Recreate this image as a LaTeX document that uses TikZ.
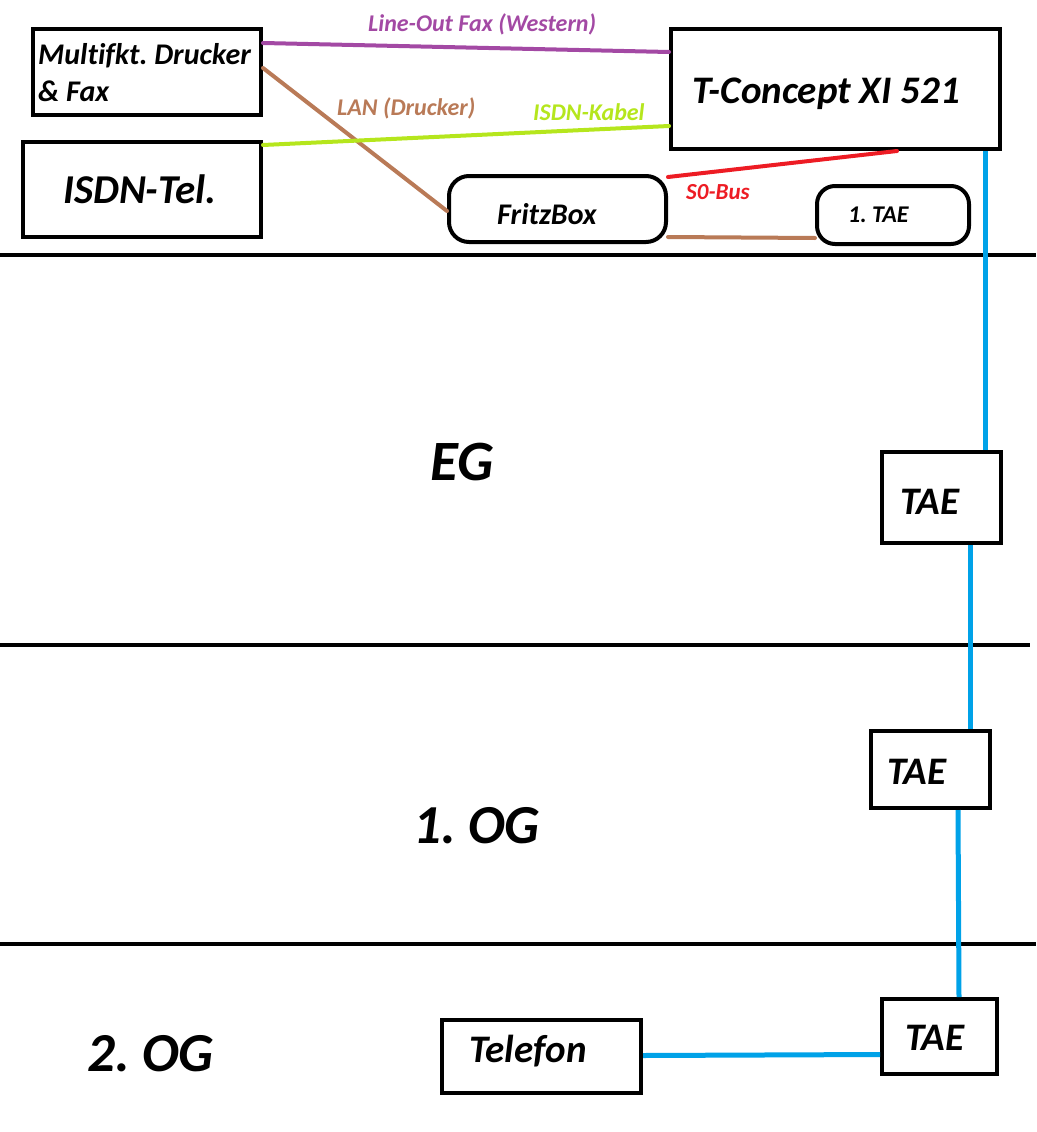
\documentclass[tikz,border=0pt]{standalone}
\usepackage{fontspec}
\setmainfont[Ligatures=CommonOff]{Carlito}
\usetikzlibrary{calc}
\definecolor{cpurple}{HTML}{A349A4}
\definecolor{cbrown}{HTML}{B97A57}
\definecolor{clime}{HTML}{B5E61D}
\definecolor{cred}{HTML}{ED1C24}
\definecolor{cblue}{HTML}{00A2E8}
\frenchspacing
\begin{document}
\begin{tikzpicture}[x=1pt,y=-1pt,
  box/.style={draw=black,line width=4pt,rectangle,inner sep=0pt},
  rbox/.style={box,rounded corners=20pt},
  txt/.style={anchor=base west,inner sep=0pt},
  wire/.style={line width=4pt,line cap=round},
  bwire/.style={line width=5pt,color=cblue}]
\useasboundingbox (0,0) rectangle (1036,1132);
% floor lines
\draw[line width=4pt] (0,255) -- (1036,255);
\draw[line width=4pt] (0,645) -- (1030,645);
\draw[line width=4pt] (0,944) -- (1036,944);
% boxes
\node[box,minimum width=228pt,minimum height=86pt] (mf) at (147,72) {};
\node[box,minimum width=238pt,minimum height=95pt] (isdn) at (142,189.5) {};
\node[box,minimum width=329pt,minimum height=120pt] (tc) at (835.5,89) {};
\node[rbox,minimum width=217pt,minimum height=66pt] (fb) at (557.5,209) {};
\node[rbox,rounded corners=18pt,minimum width=152pt,minimum height=58pt] (tae0) at (893,215) {};
\node[box,minimum width=119pt,minimum height=91pt] (t1) at (941.5,497.5) {};
\node[box,minimum width=119pt,minimum height=77pt] (t2) at (930.5,769.5) {};
\node[box,minimum width=115pt,minimum height=75pt] (t3) at (939.5,1036.5) {};
\node[box,minimum width=199pt,minimum height=73pt] (tel) at (541.5,1056.5) {};
% texts
\node[txt,font=\fontsize{30}{32}\selectfont\bfseries\itshape] (mft1) at (38,64) {Multifkt. Drucker};
\node[txt,font=\fontsize{30}{32}\selectfont\bfseries\itshape] (mft2) at (38,101) {\& Fax};
\node[txt,font=\fontsize{41}{44}\selectfont\bfseries\itshape] (isdnt) at (63,203) {ISDN-Tel.};
\node[txt,font=\fontsize{39}{42}\selectfont\bfseries\itshape] (tct) at (692,103) {T-Concept XI 521};
\node[txt,font=\fontsize{30}{32}\selectfont\bfseries\itshape] (fbt) at (497,224) {FritzBox};
\node[txt,font=\fontsize{24}{26}\selectfont\bfseries\itshape] (tae0t) at (848,222) {1. TAE};
\node[txt,font=\fontsize{39}{42}\selectfont\bfseries\itshape] (t1t) at (900,514) {TAE};
\node[txt,font=\fontsize{39}{42}\selectfont\bfseries\itshape] (t2t) at (887,784) {TAE};
\node[txt,font=\fontsize{39}{42}\selectfont\bfseries\itshape] (t3t) at (905,1050) {TAE};
\node[txt,font=\fontsize{39}{42}\selectfont\bfseries\itshape] (telt) at (469,1062) {Telefon};
\node[txt,font=\fontsize{57}{60}\selectfont\bfseries\itshape] (eg) at (430,480) {EG};
\node[txt,font=\fontsize{55}{58}\selectfont\bfseries\itshape] (og1) at (413,843) {1. OG};
\node[txt,font=\fontsize{55}{58}\selectfont\bfseries\itshape] (og2) at (87,1071) {2. OG};
% wire labels
\node[txt,font=\fontsize{24}{26}\selectfont\bfseries\itshape,text=cpurple] (lpurple) at (368,32) {Line-Out Fax (Western)};
\node[txt,font=\fontsize{24}{26}\selectfont\bfseries\itshape,text=cbrown] (lbrown) at (337,115) {LAN (Drucker)};
\node[txt,font=\fontsize{24}{26}\selectfont\bfseries\itshape,text=clime] (llime) at (533,120) {ISDN-Kabel};
\node[txt,font=\fontsize{23}{25}\selectfont\bfseries\itshape,text=cred] (lred) at (686,199) {S0-Bus};
% wires
\draw[wire,cpurple] ($(mf.north east)+(0,16)$) -- ($(tc.north west)+(0,25)$);
\draw[wire,cbrown] ($(mf.north east)+(0,41)$) -- ($(fb.west)+(0,2)$);
\draw[wire,clime] ($(isdn.north east)+(0,5)$) -- ($(tc.north west)+(0,99)$);
\draw[wire,cred] ($(fb.north east)+(0,3)$) -- ($(tc.south west)+(228,0)$);
\draw[wire,cbrown] ($(fb.south east)+(0,-7)$) -- ($(tae0.south west)+(0,-8)$);
\draw[bwire] ($(tc.south west)+(316,0)$) -- ($(t1.north west)+(105,0)$);
\draw[bwire] ($(t1.south west)+(90,0)$) -- ($(t2.north west)+(101,0)$);
\draw[bwire] ($(t2.south west)+(89,0)$) -- ($(t3.north west)+(79,0)$);
\draw[bwire] ($(t3.west)+(0,18)$) -- ($(tel.east)+(0,-1)$);
\end{tikzpicture}
\end{document}
